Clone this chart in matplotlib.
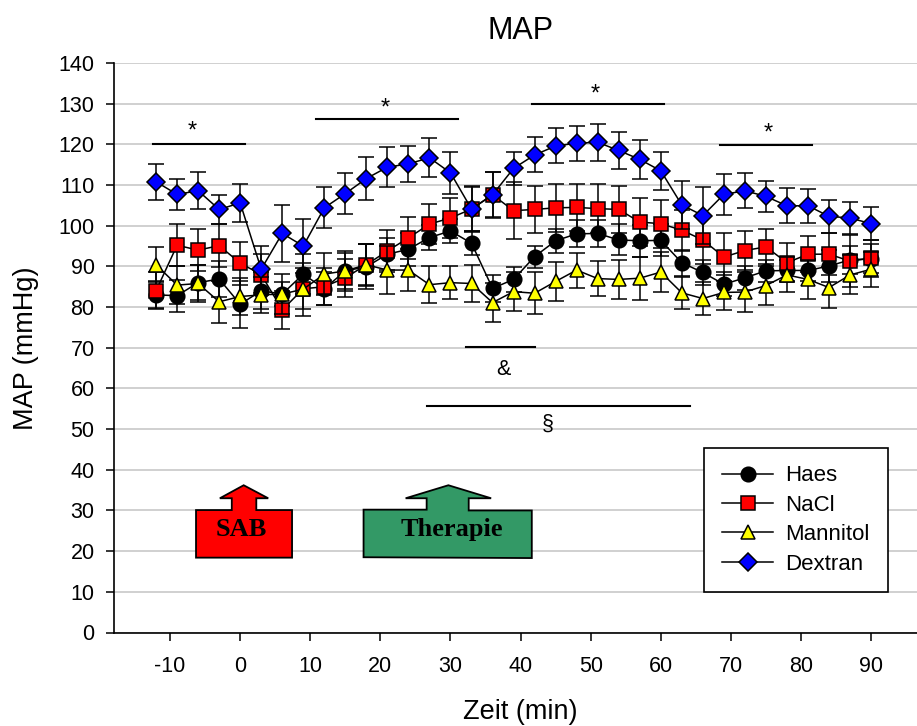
import matplotlib
matplotlib.use("Agg")
from matplotlib import pyplot as plt
from matplotlib.patches import Polygon

zeit = [-12,-9,-6,-3,0,3,6,9,12,15,18,21,24,27,30,33,36,39,42,45,48,51,54,57,60,63,66,69,72,75,78,81,84,87,90]

haes = [83,82.8,86,86.9,80.7,84,83.2,88.1,84.5,88.9,89.9,93,94.2,97.1,98.7,95.7,84.6,86.8,92.4,96.3,98,98.1,96.5,96.3,96.4,90.9,88.5,85.6,87.2,88.9,89,89,90.1,91.6,91.9]
haes_err = [3.3,3.9,4.3,4.4,5.8,4.5,3,5,4,4.4,5.5,4,4,3,2.9,3,3.4,3,2.7,2.9,3.3,3.4,3.8,3.9,3.9,3.2,3,2.9,3,2.7,2.5,2.7,4,3.5,3.5]
nacl = [84,95.2,94,95.1,90.8,88,79.3,84.5,85,87.2,90.4,93.8,97,100.4,101.9,104.1,107.6,103.7,104,104.4,104.5,104.2,104,100.9,100.5,98.9,96.5,92.3,93.9,94.8,90.9,93,93,91.3,92]
nacl_err = [4.5,5.1,5.2,5.3,5.3,5,4.7,5,4.5,4.7,5,5.1,5.1,5,5,5.5,5.5,7,5.8,5.9,5.8,6.1,5.7,6,5.9,5,6,6,4.9,4.3,4.8,4.5,5.1,6.4,4.5]
mannitol = [90.4,85.4,85.8,81.3,82.6,83,83.2,84.4,88.1,88.9,90.4,89.1,89.1,85.5,86,85.8,81.1,83.8,83.4,86.3,89.1,87,86.8,87.1,88.6,83.5,82.1,83.6,83.7,85.3,87.9,86.8,84.8,87.9,89.3]
mannitol_err = [4.3,4.7,4.6,5.2,4.5,4.5,5,6.5,5.2,5,5.2,6,5.2,4.6,4,4.5,4.8,4.8,5.2,4.8,4.3,4.4,4.7,5.3,5,3.9,4,4.3,4.8,4.8,4.3,4.7,5.1,4.8,4.3]
dextran = [110.8,107.7,108.6,104,105.6,89.3,98.1,95,104.4,107.9,111.6,114.4,115.2,116.7,113,104.1,107.6,114.1,117.4,119.6,120.3,120.5,118.5,116.3,113.5,105.1,102.5,107.7,108.6,107.2,104.9,104.9,102.3,101.9,100.5]
dextran_err = [4.4,3.9,4.5,3.6,4.6,5.8,7,6.6,5,5,5.2,4.9,4.5,4.8,5.1,5.7,5.7,4.1,4.3,4.3,4.3,4.6,4.5,4.8,4.6,6,6.9,5,4.3,3.9,4.3,4.2,4.1,4,4.1]

# bars above and below the curves: x from, x to, y, label x, label baseline
sig_star = [(-12.4,0.7,120,-6.9,121.6), (10.8,31.1,126.3,20.7,127.4), (41.7,60.5,130,50.6,130.8), (68.5,81.6,119.9,75.3,121.2)]
sig_other = [(32.2,42.1,70.2,37.5,63.3,"&"), (26.7,64.2,55.7,43.9,49.8,"§")]

# block arrows in data coords
sab_shape = [(-6.3,30.1),(-1.2,30.1),(-1.2,33),(-2.9,33),(0.5,36.2),(4,33),(2.3,33),(2.3,30.1),(7.4,30.1),(7.4,18.4),(-6.3,18.4)]
therapie_shape = [(17.6,30.2),(26.6,30.2),(26.6,33),(23.6,33),(29.7,36.2),(35.8,33),(32.6,33),(32.6,30),(41.6,30),(41.6,18.3),(17.6,18.5)]

plt.rcParams['font.family'] = ['Liberation Sans', 'DejaVu Sans']
plt.rcParams['axes.unicode_minus'] = False
fig = plt.figure(figsize=(9.17,7.26), dpi=100)
ax = fig.add_axes([114/917, 93.5/726, 803/917, 569.5/726])

ebstyle = dict(color='k', lw=1.1, elinewidth=1.1, capsize=6, capthick=1.1, mec='k', mew=1.1)
ax.errorbar(zeit, haes, yerr=haes_err, marker='o', ms=10.5, mfc='k', label="Haes", zorder=3, **ebstyle)
ax.errorbar(zeit, nacl, yerr=nacl_err, marker='s', ms=9.5, mfc='#ff0000', label="NaCl", zorder=3.1, **ebstyle)
ax.errorbar(zeit, mannitol, yerr=mannitol_err, marker='^', ms=10.5, mfc='#ffff00', label="Mannitol", zorder=3.2, **ebstyle)
ax.errorbar(zeit, dextran, yerr=dextran_err, marker='D', ms=9, mfc='#0000ff', label="Dextran", zorder=3.3, **ebstyle)

ax.set_xlim(-18, 96.55)
ax.set_ylim(0, 140)
ax.set_yticks(range(0, 141, 10))
ax.set_xticks(range(-10, 91, 10))
ax.yaxis.grid(True, color='#c8c8c8', lw=1.2)
ax.set_axisbelow(True)
ax.spines['top'].set_visible(False)
ax.spines['right'].set_visible(False)
ax.spines['left'].set_linewidth(1.2)
ax.spines['bottom'].set_linewidth(1.2)
ax.tick_params(axis='both', labelsize=15.5, width=1.1, length=6)
ax.tick_params(axis='y', pad=8)
ax.tick_params(axis='x', pad=11)

ax.set_xlabel("Zeit (min)", fontsize=19.5, va='center')
ax.xaxis.set_label_coords((520-114)/803, -0.1396)
ax.set_ylabel("MAP (mmHg)", fontsize=19.5, va='center')
ax.yaxis.set_label_coords((26-114)/803, 0.5)
ax.set_title("MAP", fontsize=22, pad=17, x=(520-114)/803)

for x0, x1, y, tx, ty in sig_star:
    ax.plot([x0, x1], [y, y], color='k', lw=1.5, zorder=4)
    ax.text(tx, ty, "*", ha='center', va='baseline', fontsize=17, zorder=5)
for x0, x1, y, tx, ty, s in sig_other:
    ax.plot([x0, x1], [y, y], color='k', lw=1.5, zorder=4)
    ax.text(tx, ty, s, ha='center', va='baseline', fontsize=15.5, zorder=5)

ax.add_patch(Polygon(sab_shape, closed=True, fc='#ff0000', ec='k', lw=1.3, zorder=2.5))
ax.add_patch(Polygon(therapie_shape, closed=True, fc='#339966', ec='k', lw=1.3, zorder=2.5))
ax.text(0.14, 23.7, "SAB", family='Liberation Serif', fontweight='bold', fontsize=19, ha='center', va='baseline', zorder=5)
ax.text(30.2, 23.6, "Therapie", family='Liberation Serif', fontweight='bold', fontsize=19, ha='center', va='baseline', zorder=5)

# drop the error bars from the legend keys
handles, labels = ax.get_legend_handles_labels()
keys = [h.lines[0] for h in handles]
leg = ax.legend(keys, labels, loc='center', bbox_to_anchor=(796/917, (726-520)/726),
                bbox_transform=fig.transFigure, fontsize=16, frameon=True, fancybox=False,
                framealpha=1, edgecolor='k', handlelength=2.3, labelspacing=0.38,
                handletextpad=0.55, borderpad=0.8, borderaxespad=0)
leg.get_frame().set_linewidth(1.2)
leg.set_zorder(6)

fig.savefig("out.png", dpi=100)
